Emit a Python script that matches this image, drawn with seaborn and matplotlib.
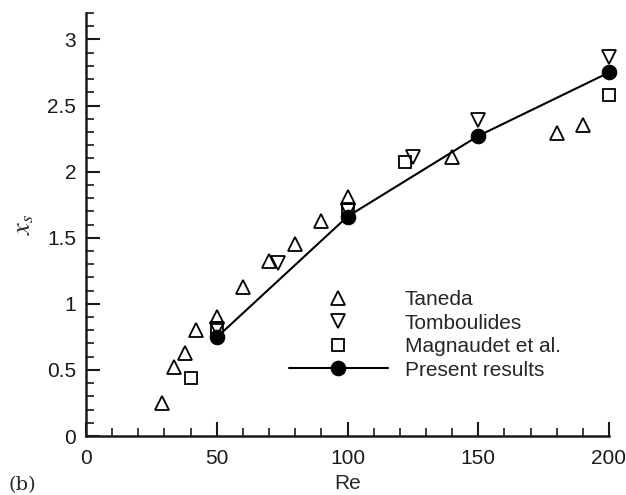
import matplotlib
matplotlib.use("Agg")
import matplotlib.pyplot as plt
import seaborn as sns
import pandas as pd
from matplotlib.ticker import MultipleLocator

# Data
taneda_re = [29, 33.5, 38, 42, 50, 60, 70, 80, 90, 100, 140, 180, 190]
taneda_xs = [0.25, 0.52, 0.625, 0.80, 0.90, 1.13, 1.325, 1.45, 1.63, 1.81, 2.11, 2.29, 2.35]

tomb_re = [50, 73.5, 100, 125, 150, 200]
tomb_xs = [0.81, 1.31, 1.70, 2.11, 2.39, 2.87]

magn_re = [40, 50, 100, 122, 200]
magn_xs = [0.436, 0.82, 1.72, 2.07, 2.58]

pres_re = [50, 100, 150, 200]
pres_xs = [0.746, 1.66, 2.27, 2.75]

x_ticks = [0, 50, 100, 150, 200]
x_ticklabels = ["0", "50", "100", "150", "200"]
y_ticks = [0, 0.5, 1, 1.5, 2, 2.5, 3]
y_ticklabels = ["0", "0.5", "1", "1.5", "2", "2.5", "3"]

sns.set_style("ticks")
plt.rcParams['font.family'] = ['Liberation Sans', 'DejaVu Sans']
plt.rcParams['mathtext.fontset'] = 'stix'

fig = plt.figure(figsize=(6.26, 4.95), dpi=100)
ax = fig.add_axes([86/626, 1-436/495, (609-86)/626, (436-13)/495])

common = dict(color='black', markeredgecolor='black', markeredgewidth=1.3,
              markerfacecolor='none', linestyle='none', errorbar=None, sort=False,
              clip_on=False, ax=ax)

sns.lineplot(x=taneda_re, y=taneda_xs, marker='^', markersize=9.5, label='Taneda', **common)
sns.lineplot(x=tomb_re, y=tomb_xs, marker='v', markersize=9.5, label='Tomboulides', **common)
sns.lineplot(x=magn_re, y=magn_xs, marker='s', markersize=8.3, label='Magnaudet et al.', **common)
sns.lineplot(x=pres_re, y=pres_xs, marker='o', markersize=10.5, color='black',
             markeredgecolor='black', markerfacecolor='black', linewidth=1.5,
             errorbar=None, sort=False, clip_on=False, label='Present results', ax=ax)

ax.set_xlim(0, 200)
ax.set_ylim(0, 3.2)
ax.set_xticks(x_ticks)
ax.set_xticklabels(x_ticklabels)
ax.set_yticks(y_ticks)
ax.set_yticklabels(y_ticklabels)
ax.xaxis.set_minor_locator(MultipleLocator(10))
ax.yaxis.set_minor_locator(MultipleLocator(0.1))
ax.tick_params(which='major', direction='in', length=10, width=1.5, labelsize=15,
               colors='#1a1a1a')
ax.tick_params(axis='x', which='major', pad=9)
ax.tick_params(axis='y', which='major', pad=7)
ax.tick_params(which='minor', direction='in', length=6, width=1.2, colors='#1a1a1a')
for s in ['top', 'right']:
    ax.spines[s].set_visible(False)
for s in ['left', 'bottom']:
    ax.spines[s].set_linewidth(1.8)
    ax.spines[s].set_color('#1a1a1a')

ax.set_xlabel('Re', fontsize=15, labelpad=5)
ax.set_ylabel(r'$x_s$', fontsize=19, labelpad=8)

leg = ax.legend(loc='upper left', bbox_to_anchor=(289/626, 1-290/495),
                bbox_transform=fig.transFigure, frameon=False, fontsize=15,
                handlelength=4.75, handletextpad=0.8, labelspacing=0.22,
                borderpad=0, borderaxespad=0)

fig.text(8/626, 1-490/495, '(b)', fontsize=14, family='DejaVu Serif')

fig.savefig('out.png', dpi=100)
